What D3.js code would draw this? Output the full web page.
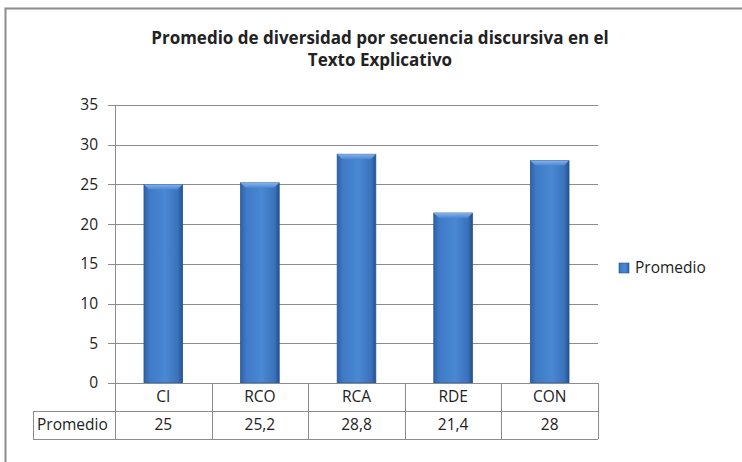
<!DOCTYPE html>
<html>
<head>
<meta charset="utf-8">
<script src="https://cdn.jsdelivr.net/npm/d3@7"></script>
<style>
  html, body { margin: 0; padding: 0; background: #fff; }
  svg { display: block; }
  text { font-family: "Open Sans", "Liberation Sans", sans-serif; fill: #222; }
</style>
</head>
<body>
<svg id="chart" width="742" height="462"></svg>
<script>
const categories = ["CI", "RCO", "RCA", "RDE", "CON"];
const values = [25, 25.2, 28.8, 21.4, 28];
const valueLabels = ["25", "25,2", "28,8", "21,4", "28"];
const seriesName = "Promedio";
const yTicks = [0, 5, 10, 15, 20, 25, 30, 35];
const titleLines = ["Promedio de diversidad por secuencia discursiva en el", "Texto Explicativo"];

const svg = d3.select("#chart");
const W = 742, H = 462;
const plot = { left: 115, right: 598, top: 105, bottom: 383 };
const rowH = 28;

// outer frame
svg.append("rect").attr("x", 5.5).attr("y", 8.5).attr("width", W + 10).attr("height", H + 10)
  .attr("fill", "#fff").attr("stroke", "#8c8c8c").attr("stroke-width", 2);

const defs = svg.append("defs");
const grad = defs.append("linearGradient").attr("id", "barGrad").attr("x1", "0").attr("x2", "1").attr("y1", "0").attr("y2", "0");
grad.append("stop").attr("offset", "0%").attr("stop-color", "#2f62a8");
grad.append("stop").attr("offset", "15%").attr("stop-color", "#3f7ac6");
grad.append("stop").attr("offset", "55%").attr("stop-color", "#4a88d4");
grad.append("stop").attr("offset", "88%").attr("stop-color", "#3a72bb");
grad.append("stop").attr("offset", "100%").attr("stop-color", "#24508c");
const topGrad = defs.append("linearGradient").attr("id", "topGrad").attr("x1", "0").attr("x2", "0").attr("y1", "0").attr("y2", "1");
topGrad.append("stop").attr("offset", "0%").attr("stop-color", "#8fb9ec");
topGrad.append("stop").attr("offset", "100%").attr("stop-color", "#4a88d4");

const x = d3.scaleBand().domain(categories).range([plot.left, plot.right]).paddingInner(0).paddingOuter(0);
const y = d3.scaleLinear().domain([0, 35]).range([plot.bottom, plot.top]);

// gridlines
svg.append("g").selectAll("line").data(yTicks).join("line")
  .attr("x1", plot.left - 7).attr("x2", plot.right)
  .attr("y1", d => Math.round(y(d)) + 0.5).attr("y2", d => Math.round(y(d)) + 0.5)
  .attr("stroke", "#8c8c8c").attr("stroke-width", 1);

// y axis
const yAxis = d3.axisLeft(y).tickValues(yTicks).tickSize(0).tickPadding(17);
const gy = svg.append("g").attr("transform", `translate(${plot.left},0)`).call(yAxis);
gy.select(".domain").remove();
gy.selectAll("text").attr("font-size", 15.5).style("font-family", "'Open Sans', sans-serif").attr("fill", "#222");
svg.append("line").attr("x1", plot.left + 0.5).attr("x2", plot.left + 0.5)
  .attr("y1", plot.top).attr("y2", plot.bottom + 2 * rowH).attr("stroke", "#8c8c8c");

// bars
const barW = x.bandwidth() * 0.4;
const bars = svg.append("g").selectAll("g").data(categories).join("g");
bars.append("rect")
  .attr("x", d => x(d) + (x.bandwidth() - barW) / 2)
  .attr("y", (d, i) => y(values[i]))
  .attr("width", barW)
  .attr("height", (d, i) => y(0) - y(values[i]))
  .attr("fill", "url(#barGrad)")
  .attr("stroke", "#2a568f").attr("stroke-width", 0.8);
bars.append("path")
  .attr("d", (d, i) => {
    const x0 = x(d) + (x.bandwidth() - barW) / 2, x1 = x0 + barW, y0 = y(values[i]);
    return `M${x0},${y0} L${x1},${y0} L${x1 - 5},${y0 + 5} L${x0 + 5},${y0 + 5} Z`;
  })
  .attr("fill", "url(#topGrad)").attr("opacity", 0.9);

// data table
const tableLeft = 33;
const tbl = svg.append("g");
[[plot.left - 7, plot.bottom], [tableLeft, plot.bottom + rowH], [tableLeft, plot.bottom + 2 * rowH]].forEach(([x0, yy]) => {
  tbl.append("line").attr("x1", x0).attr("x2", plot.right).attr("y1", yy + 0.5).attr("y2", yy + 0.5)
    .attr("stroke", "#8c8c8c");
});
tbl.append("line").attr("x1", tableLeft + 0.5).attr("x2", tableLeft + 0.5)
  .attr("y1", plot.bottom + rowH).attr("y2", plot.bottom + 2 * rowH).attr("stroke", "#8c8c8c");
tbl.selectAll("line.v").data(categories).join("line").attr("class", "v")
  .attr("x1", d => Math.round(x(d) + x.bandwidth()) + 0.5).attr("x2", d => Math.round(x(d) + x.bandwidth()) + 0.5)
  .attr("y1", plot.bottom).attr("y2", plot.bottom + 2 * rowH).attr("stroke", "#8c8c8c");
tbl.selectAll("text.cat").data(categories).join("text").attr("class", "cat")
  .attr("x", d => x(d) + x.bandwidth() / 2).attr("y", plot.bottom + rowH / 2 + 1)
  .attr("text-anchor", "middle").attr("dominant-baseline", "middle").attr("font-size", 15.5)
  .text(d => d);
tbl.selectAll("text.val").data(valueLabels).join("text").attr("class", "val")
  .attr("x", (d, i) => x(categories[i]) + x.bandwidth() / 2).attr("y", plot.bottom + rowH * 1.5 + 1)
  .attr("text-anchor", "middle").attr("dominant-baseline", "middle").attr("font-size", 15.5)
  .text(d => d);
tbl.append("text").attr("x", tableLeft + 4).attr("y", plot.bottom + rowH * 1.5 + 1)
  .attr("dominant-baseline", "middle").attr("font-size", 15.5).text(seriesName);

// title
svg.append("g").selectAll("text").data(titleLines).join("text")
  .attr("x", 380).attr("y", (d, i) => 44 + i * 22)
  .attr("text-anchor", "middle")
  .attr("font-size", 17).attr("font-weight", "bold").attr("fill", "#111")
  .text(d => d);

// legend
const lg = svg.append("g").attr("transform", "translate(619,263)");
lg.append("rect").attr("width", 10).attr("height", 10).attr("fill", "url(#barGrad)").attr("stroke", "#2a568f").attr("stroke-width", 0.6);
lg.append("text").attr("x", 16).attr("y", 5.5).attr("dominant-baseline", "middle").attr("font-size", 15.5).text(seriesName);
</script>
</body>
</html>
